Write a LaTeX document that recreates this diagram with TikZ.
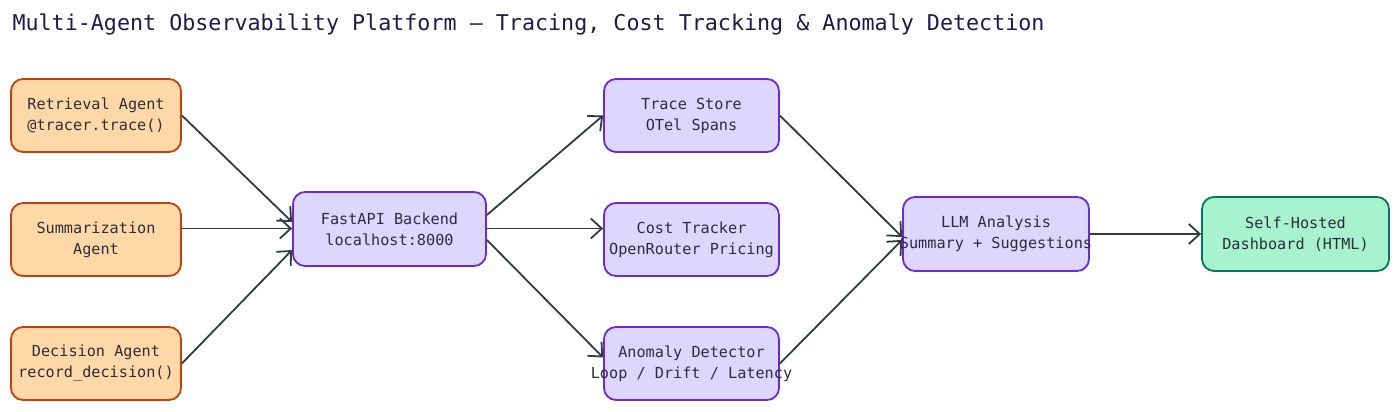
\documentclass[tikz,border=0pt]{standalone}
\usepackage{fontspec}
\setmonofont{DejaVu Sans Mono}
\usetikzlibrary{arrows.meta}
\definecolor{ofill}{HTML}{FFD8A8}\definecolor{odraw}{HTML}{C2410C}
\definecolor{pfill}{HTML}{DDD6FE}\definecolor{pdraw}{HTML}{6D28D9}
\definecolor{gfill}{HTML}{A7F3D0}\definecolor{gdraw}{HTML}{047857}
\definecolor{arr}{HTML}{343A40}\definecolor{ttl}{HTML}{1E1B4B}
\definecolor{txt}{HTML}{2D2D3A}
\newcommand{\fitline}[1]{\makebox[160pt]{#1}}
\begin{document}
\begin{tikzpicture}[x=1pt,y=-1pt,
 box/.style={rounded corners=12pt,line width=1.8pt,align=center,font=\ttfamily\fontsize{15.2}{21}\selectfont,text=txt,inner sep=0pt},
 ob/.style={box,fill=ofill,draw=odraw,minimum width=170pt,minimum height=73pt},
 pb/.style={box,fill=pfill,draw=pdraw},
 gb/.style={box,fill=gfill,draw=gdraw},
 ar/.style={draw=arr,line width=1.8pt,-{Straight Barb[length=11pt,width=20pt,line width=1.8pt]}}]
\useasboundingbox[fill=white](0,0) rectangle (1400,412);
\node[anchor=west,text=ttl,font=\ttfamily\fontsize{21.7}{24}\selectfont] (title) at (9,25) {Multi-Agent Observability Platform – Tracing, Cost Tracking \& Anomaly Detection};
\node[ob] (ret) at (96,115.5) {Retrieval Agent\\@tracer.trace()};
\node[ob] (sum) at (96,239.5) {Summarization\\Agent};
\node[ob] (dec) at (96,363.5) {Decision Agent\\record\_decision()};
\node[pb,minimum width=193pt,minimum height=74pt] (fast) at (389.5,229) {FastAPI Backend\\localhost:8000};
\node[pb,minimum width=175pt,minimum height=73pt] (trace) at (691.5,115.5) {Trace Store\\OTel Spans};
\node[pb,minimum width=175pt,minimum height=73pt] (cost) at (691.5,239.5) {\fitline{Cost Tracker}\\\fitline{OpenRouter Pricing}};
\node[pb,minimum width=175pt,minimum height=73pt] (anom) at (691.5,363.5) {\fitline{Anomaly Detector}\\\fitline{Loop / Drift / Latency}};
\node[pb,minimum width=186pt,minimum height=74pt] (llm) at (996,234) {\fitline{LLM Analysis}\\\fitline{Summary + Suggestions}};
\node[gb,minimum width=187pt,minimum height=74pt] (dash) at (1295.5,234) {Self-Hosted\\Dashboard (HTML)};
\draw[ar] (ret.east) -- ([yshift=7pt]fast.west);
\draw[ar] ([yshift=11pt]sum.east) -- ([yshift=0.5pt]fast.west);
\draw[ar] (dec.east) -- ([yshift=-21pt]fast.west);
\draw[ar] ([yshift=14pt]fast.east) -- (trace.west);
\draw[ar] ([yshift=0.5pt]fast.east) -- ([yshift=11pt]cost.west);
\draw[ar] ([yshift=-11pt]fast.east) -- ([yshift=6pt]anom.west);
\draw[ar] (trace.east) -- ([yshift=-3pt]llm.west);
\draw[ar] (anom.east) -- ([yshift=-6pt]llm.west);
\draw[ar] (llm.east) -- (dash.west);
\end{tikzpicture}
\end{document}
